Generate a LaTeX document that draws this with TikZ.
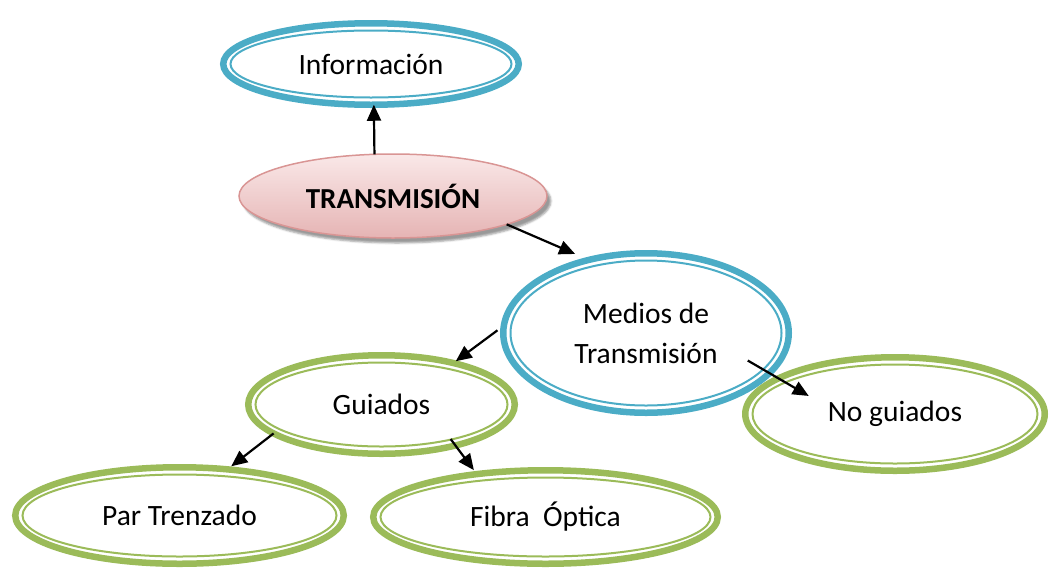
\documentclass[tikz,border=0pt]{standalone}
\usepackage{fontspec}
\setmainfont{Carlito}
\usetikzlibrary{arrows.meta,shadows.blur,shapes.geometric}

\definecolor{azul}{RGB}{75,172,198}
\definecolor{verde}{RGB}{155,187,89}
\definecolor{rosa}{RGB}{217,149,148}
\definecolor{rosaclaro}{RGB}{250,232,232}
\definecolor{rosaosc}{RGB}{229,180,180}

\tikzset{
  anillo/.style={ellipse, draw=#1, line width=6.5pt, inner sep=0pt, outer sep=0pt,
    align=center, font=\fontsize{29.5}{40}\selectfont},
  fino/.style={draw=#1, line width=2pt},
  flecha/.style={-{Triangle[length=16pt,width=14pt]}, line width=2.2pt},
}

\begin{document}
\begin{tikzpicture}[x=1pt,y=-1pt]
            \useasboundingbox (0,0) rectangle (1051,568);

            % nodo central
            \node [ellipse, draw=rosa, line width=1.5pt, top color=rosaclaro, bottom color=rosaosc,
                   blur shadow={shadow xshift=4pt, shadow yshift=-5pt, shadow opacity=40},
                   minimum width=308pt, minimum height=84pt, inner sep=0pt, outer sep=0pt,
                   font=\bfseries\fontsize{29}{32}\selectfont] (trans) at (393,196) {TRANSMISIÓN};

            \node [anillo=azul, minimum width=295.5pt, minimum height=81.5pt] (info) at (371,64) {Información};
            \draw [fino=azul] (info.center) ellipse [x radius=140.5, y radius=33.5];

            \node [anillo=azul, minimum width=285.5pt, minimum height=159.5pt] (medios) at (646,333) {Medios de\\Transmisión};
            \draw [fino=azul] (medios.center) ellipse [x radius=135.5, y radius=72.5];

            % medios guiados y no guiados
            \node [anillo=verde, minimum width=266.5pt, minimum height=98.5pt] (guiados) at (381.5,404.5) {Guiados};
            \draw [fino=verde] (guiados.center) ellipse [x radius=126, y radius=42];

            \node [anillo=verde, minimum width=299.5pt, minimum height=113.5pt] (noguiados) at (895,414) {No guiados};
            \draw [fino=verde] (noguiados.center) ellipse [x radius=142.5, y radius=49.5];

            \node [anillo=verde, minimum width=328.5pt, minimum height=96.5pt] (par) at (179.5,515.5) {Par Trenzado};
            \draw [fino=verde] (par.center) ellipse [x radius=157, y radius=41];

            \node [anillo=verde, minimum width=344.5pt, minimum height=93.5pt] (fibra) at (545.5,517) {Fibra\ \ Óptica};
            \draw [fino=verde] (fibra.center) ellipse [x radius=165, y radius=39.5];

            % flechas
            \draw [flecha] (trans.114) -- (info.-86);
            \draw [flecha, shorten >=15pt] (trans.-14) -- (medios.128);
            \draw [flecha, shorten <=8pt, shorten >=3pt] (medios.177) -- (guiados.30);
            \draw [flecha, shorten <=-25pt, shorten >=-35pt] (medios.-18) -- (noguiados.163);
            \draw [flecha, shorten >=5pt] (guiados.195) -- (par.44);
            \draw [flecha, shorten <=-8pt, shorten >=5pt] (guiados.-29) -- (fibra.148);

        \end{tikzpicture}
\end{document}
